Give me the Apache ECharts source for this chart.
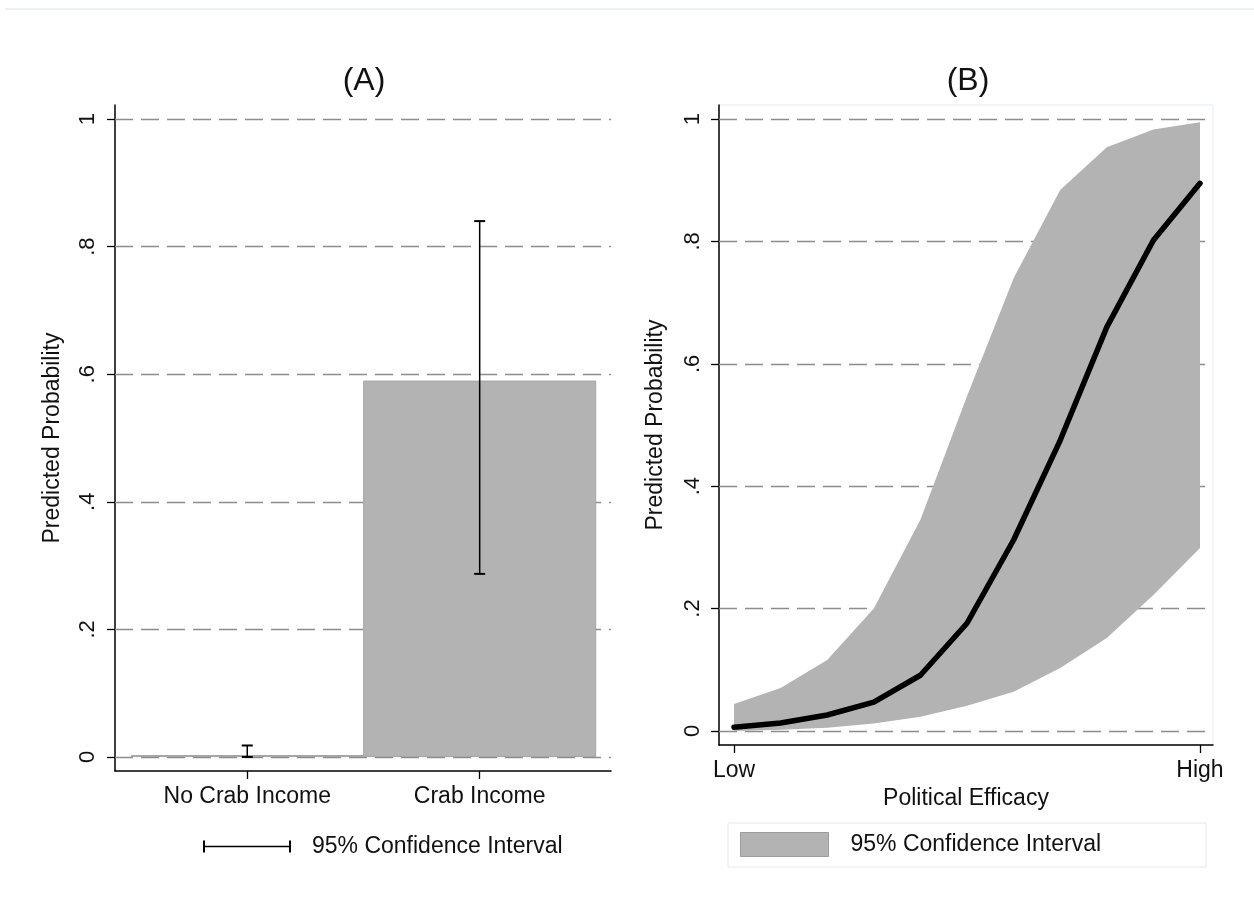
<!DOCTYPE html>
<html>
<head>
<meta charset="utf-8">
<title>Predicted Probability</title>
<script src="https://cdn.jsdelivr.net/npm/echarts@6/dist/echarts.min.js"></script>
<style>
  html, body { margin: 0; padding: 0; background: #ffffff; }
  #chart { width: 1254px; height: 903px; }
</style>
</head>
<body>
<div id="chart"></div>
<script>
// Panel (A): predicted probability by crab income status
const incomeGroups = ['No Crab Income', 'Crab Income'];
const incomePositions = [1, 2];
const incomeProb = [0.003, 0.59];
const incomeLower = [0.0, 0.287];
const incomeUpper = [0.018, 0.84];

// Panel (B): predicted probability across political efficacy
const efficacyTickLabels = ['Low', 'High'];
const efficacyTickPositions = [0, 10];
const efficacySteps = [0, 1, 2, 3, 4, 5, 6, 7, 8, 9, 10];
const efficacyProb = [0.006, 0.013, 0.026, 0.047, 0.091, 0.176, 0.312, 0.475, 0.66, 0.802, 0.895];
const efficacyLower = [0.0, 0.002, 0.005, 0.012, 0.023, 0.041, 0.064, 0.103, 0.152, 0.222, 0.299];
const efficacyUpper = [0.044, 0.07, 0.116, 0.2, 0.345, 0.547, 0.74, 0.884, 0.954, 0.983, 0.995];

// Shared probability ticks
const probTicks = [0, 0.2, 0.4, 0.6, 0.8, 1];

const FONT = "'Liberation Sans', Arial, sans-serif";
const TEXT = '#111111';
const FILL = '#b3b3b3';

function probLabel(v) {
  if (Math.abs(v) < 1e-9) return '0';
  if (Math.abs(v - 1) < 1e-9) return '1';
  return String(Math.round(v * 10) / 10).replace(/^0/, '');
}

// Dashed reference lines at each probability tick, kept beneath the marks
const gridLines = {
  silent: true,
  symbol: 'none',
  z: 1,
  label: { show: false },
  lineStyle: { color: '#8c8c8c', type: [18, 8], width: 1.3 },
  emphasis: { disabled: true },
  data: probTicks.map(v => ({ yAxis: v }))
};

function probAxis(gridIndex, min, max, margin, nameGap) {
  return {
    type: 'value',
    gridIndex,
    min, max,
    name: 'Predicted Probability',
    nameLocation: 'middle',
    nameGap,
    nameTextStyle: { fontFamily: FONT, fontSize: 23, color: TEXT },
    axisLine: { show: true, onZero: false, lineStyle: { color: '#000', width: 1.5 } },
    axisTick: { show: true, customValues: probTicks, length: 8, lineStyle: { color: '#000', width: 1.3 } },
    axisLabel: {
      customValues: probTicks, rotate: 90, margin,
      fontFamily: FONT, fontSize: 22, color: TEXT,
      formatter: probLabel
    },
    splitLine: { show: false }
  };
}

const errorBarSeries = {
  name: 'intervalA',
  type: 'custom',
  xAxisIndex: 0, yAxisIndex: 0,
  z: 4,
  itemStyle: { color: '#000' },
  data: incomePositions.map((x, i) => [x, incomeLower[i], incomeUpper[i]]),
  encode: { x: 0, y: [1, 2] },
  renderItem(params, api) {
    const x = api.value(0);
    const lo = api.coord([x, api.value(1)]);
    const hi = api.coord([x, api.value(2)]);
    const half = 5.5;
    const style = { stroke: '#000', lineWidth: 1.5 };
    const capStyle = { stroke: '#000', lineWidth: 2 };
    return {
      type: 'group',
      children: [
        { type: 'line', shape: { x1: lo[0], y1: lo[1], x2: hi[0], y2: hi[1] }, style },
        { type: 'line', shape: { x1: hi[0] - half, y1: hi[1], x2: hi[0] + half, y2: hi[1] }, style: capStyle },
        { type: 'line', shape: { x1: lo[0] - half, y1: lo[1], x2: lo[0] + half, y2: lo[1] }, style: capStyle }
      ]
    };
  }
};

// Confidence band drawn as one polygon: upper bound left-to-right, lower bound back
const bandSeries = {
  name: 'intervalB',
  type: 'custom',
  xAxisIndex: 1, yAxisIndex: 1,
  z: 2,
  itemStyle: { color: FILL },
  data: efficacySteps.map((x, i) => [x, efficacyLower[i], efficacyUpper[i]]),
  encode: { x: 0, y: [1, 2] },
  renderItem(params, api) {
    if (params.dataIndex !== 0) return null;
    const upper = efficacySteps.map((x, i) => api.coord([x, efficacyUpper[i]]));
    const lower = efficacySteps.map((x, i) => api.coord([x, efficacyLower[i]])).reverse();
    return {
      type: 'polygon',
      shape: { points: upper.concat(lower) },
      style: { fill: FILL, stroke: null }
    };
  }
};

const option = {
  backgroundColor: '#ffffff',
  animation: false,
  title: [
    { text: '(A)', left: 359, top: 60, textAlign: 'center',
      textStyle: { fontFamily: FONT, fontSize: 32, fontWeight: 'normal', color: TEXT } },
    { text: '(B)', left: 963, top: 60, textAlign: 'center',
      textStyle: { fontFamily: FONT, fontSize: 32, fontWeight: 'normal', color: TEXT } }
  ],
  legend: [
    {
      left: 203, top: 835,
      padding: 0,
      selectedMode: false,
      itemWidth: 88, itemHeight: 12,
      data: [{
        name: 'intervalA',
        icon: 'path://M0,0H2V12H0Z M86,0H88V12H86Z M0,5.3H88V6.7H0Z',
        itemStyle: { color: '#000', borderWidth: 0 }
      }],
      formatter: () => '95% Confidence Interval',
      textStyle: { fontFamily: FONT, fontSize: 23, color: TEXT, padding: [2, 0, 0, 16] }
    },
    {
      left: 728, top: 823,
      selectedMode: false,
      itemWidth: 88, itemHeight: 24,
      padding: [9, 105, 10, 12],
      borderColor: '#e3eaee', borderWidth: 1,
      data: [{
        name: 'intervalB',
        icon: 'rect',
        itemStyle: { color: FILL, borderColor: '#9c9c9c', borderWidth: 1 }
      }],
      formatter: () => '95% Confidence Interval',
      textStyle: { fontFamily: FONT, fontSize: 23, color: TEXT, padding: [4, 0, 0, 17] }
    }
  ],
  grid: [
    { left: 115, top: 105, width: 496, height: 666 },
    { left: 719, top: 105, width: 494, height: 640,
      show: true, borderColor: '#e6edf0', borderWidth: 1, backgroundColor: 'transparent' }
  ],
  xAxis: [
    {
      type: 'value', gridIndex: 0, min: 0.431, max: 2.565,
      axisLine: { show: true, onZero: false, lineStyle: { color: '#000', width: 1.5 } },
      axisTick: { show: true, customValues: incomePositions, length: 8, lineStyle: { color: '#000', width: 1.3 } },
      axisLabel: {
        customValues: incomePositions, margin: 14,
        fontFamily: FONT, fontSize: 23, color: TEXT,
        formatter: v => incomeGroups[incomePositions.indexOf(Math.round(v))]
      },
      splitLine: { show: false }
    },
    {
      type: 'value', gridIndex: 1, min: -0.322, max: 10.279,
      name: 'Political Efficacy',
      nameLocation: 'middle',
      nameGap: 37,
      nameTextStyle: { fontFamily: FONT, fontSize: 23, color: TEXT },
      axisLine: { show: true, onZero: false, lineStyle: { color: '#000', width: 1.5 } },
      axisTick: { show: true, customValues: efficacyTickPositions, length: 8, lineStyle: { color: '#000', width: 1.3 } },
      axisLabel: {
        customValues: efficacyTickPositions, margin: 14,
        fontFamily: FONT, fontSize: 23, color: TEXT,
        formatter: v => efficacyTickLabels[efficacyTickPositions.indexOf(Math.round(v))]
      },
      splitLine: { show: false }
    }
  ],
  yAxis: [
    probAxis(0, -0.022, 1.022, 16, 51),
    probAxis(1, -0.023, 1.023, 15, 52)
  ],
  graphic: [
    { type: 'line', silent: true, shape: { x1: 5, y1: 9, x2: 1254, y2: 9 },
      style: { stroke: '#e5ecee', lineWidth: 1.5 } }
  ],
  series: [
    {
      name: 'probA',
      type: 'bar',
      xAxisIndex: 0, yAxisIndex: 0,
      barWidth: 233,
      z: 2,
      itemStyle: { color: FILL, borderColor: '#a4a4a4', borderWidth: 1 },
      data: incomePositions.map((x, i) => [x, incomeProb[i]]),
      markLine: gridLines
    },
    errorBarSeries,
    bandSeries,
    {
      name: 'probB',
      type: 'line',
      xAxisIndex: 1, yAxisIndex: 1,
      symbol: 'none',
      z: 3,
      lineStyle: { color: '#000', width: 5.5, join: 'round', cap: 'round' },
      data: efficacySteps.map((x, i) => [x, efficacyProb[i]]),
      markLine: gridLines
    }
  ]
};

const chart = echarts.init(document.getElementById('chart'), null, { renderer: 'canvas' });
chart.setOption(option);
</script>
</body>
</html>
